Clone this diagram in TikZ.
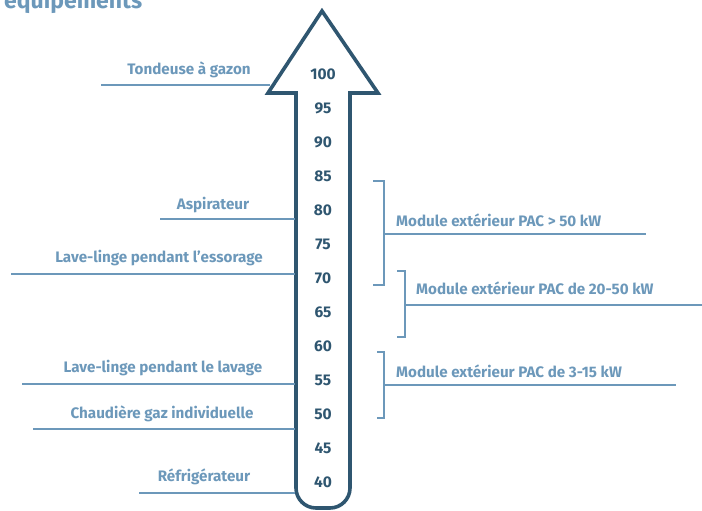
\documentclass[tikz,border=0pt]{standalone}
\usepackage{fontspec}
\setmainfont{Fira Sans}[BoldFont={Fira Sans Bold}]
\usepackage{tikz}
\usetikzlibrary{arrows}
\definecolor{lblue}{HTML}{6C98BA}
\definecolor{adark}{HTML}{2F5670}

\begin{document}
\begin{tikzpicture}[x=1pt,y=-1pt, % one unit = one pixel
	lbl/.style={text=lblue,font=\fontsize{15.2}{17}\selectfont\bfseries,inner sep=0pt},
	num/.style={text=adark,font=\fontsize{15.5}{17}\selectfont\bfseries,inner sep=0pt,anchor=base},
	trait/.style={draw=lblue,line width=1.4pt}, % label lines and brackets
	fleche/.style={draw=adark,line width=3.6pt,line join=miter}]
	\useasboundingbox (0,0) rectangle (702,511);

	\node[lbl,font=\fontsize{23}{26}\selectfont\bfseries,anchor=base west] (titre) at (4,9) {équipements};

	% the big arrow
	\draw[fleche] (296,200) [rounded corners=20] -- (296,508) -- (350,508) -- (350,200)
		[sharp corners] -- (350,93) -- (378,93) -- (322,11) -- (268,93) -- (296,93) -- cycle;

	% scale inside the arrow
	\foreach \v [count=\i from 0] in {100,95,90,85,80,75,70,65,60,55,50,45,40}
		\node[num] (n\v) at (323,80+33.92*\i) {\v};

	% left side
	\node[lbl,anchor=base] (tondeuse) at (189,75) {Tondeuse à gazon};
	\coordinate (t1) at (101,85); \coordinate (t2) at (270,85);
	\draw[trait] (t1) -- (t2);

	\node[lbl,anchor=base] (aspi) at (213,209) {Aspirateur};
	\coordinate (a1) at (160,219); \coordinate (a2) at (295,219);
	\draw[trait] (a1) -- (a2);

	\node[lbl,anchor=base] (essorage) at (159,262) {Lave-linge pendant l’essorage};
	\coordinate (e1) at (11,274); \coordinate (e2) at (295,274);
	\draw[trait] (e1) -- (e2);

	\node[lbl,anchor=base] (lavage) at (163,372) {Lave-linge pendant le lavage};
	\coordinate (l1) at (22,384); \coordinate (l2) at (295,384);
	\draw[trait] (l1) -- (l2);

	\node[lbl,anchor=base] (chaudiere) at (162,418) {Chaudière gaz individuelle};
	\coordinate (c1) at (33,429); \coordinate (c2) at (295,429);
	\draw[trait] (c1) -- (c2);

	\node[lbl,anchor=base] (frigo) at (204,481) {Réfrigérateur};
	\coordinate (r1) at (139,493); \coordinate (r2) at (295,493);
	\draw[trait] (r1) -- (r2);

	% right side, brackets
	\node[lbl,anchor=base west] (pac50) at (396,226) {Module extérieur PAC > 50 kW};
	\coordinate (b1h) at (373,181); \coordinate (b1b) at (373,285);
	\coordinate (b1m) at (384,234); \coordinate (b1f) at (646,234);
	\draw[trait] (b1h) -| (b1m) |- (b1b);
	\draw[trait] (b1m) -- (b1f);

	\node[lbl,anchor=base west] (pac20) at (416,294) {Module extérieur PAC de 20-50 kW};
	\coordinate (b2h) at (397,271); \coordinate (b2b) at (397,337);
	\coordinate (b2m) at (405,305); \coordinate (b2f) at (702,305);
	\draw[trait] (b2h) -| (b2m) |- (b2b);
	\draw[trait] (b2m) -- (b2f);

	\node[lbl,anchor=base west] (pac3) at (396,377) {Module extérieur PAC de 3-15 kW};
	\coordinate (b3h) at (377,352); \coordinate (b3b) at (377,418);
	\coordinate (b3m) at (384,385); \coordinate (b3f) at (676,385);
	\draw[trait] (b3h) -| (b3m) |- (b3b);
	\draw[trait] (b3m) -- (b3f);

\end{tikzpicture}
\end{document}
